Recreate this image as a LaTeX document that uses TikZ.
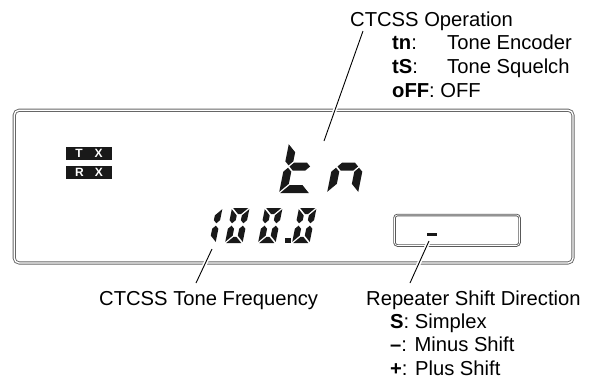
\documentclass[tikz,border=0pt]{standalone}
\usepackage{fontspec}
\setmainfont{Liberation Sans}
\newcommand\lcddigit[6]{%
  \begin{scope}[shift={(#1,#2)},x=1pt,y=1pt,xslant=0.2]
    \def\dW{#3}\def\dH{#4}\def\dT{#5}\def\dG{1.2}%
    \pgfmathsetmacro\dM{#4*0.53}\pgfmathsetmacro\dh{#5/2}%
    #6%
  \end{scope}}
\newcommand\lsA{\fill[lcd] (\dG,\dH) -- ({\dW-\dG},\dH) -- ({\dW-\dT-\dG},{\dH-\dT}) -- ({\dT+\dG},{\dH-\dT}) -- cycle;}
\newcommand\lsD{\fill[lcd] (\dG,0) -- ({\dW-\dG},0) -- ({\dW-\dT-\dG},\dT) -- ({\dT+\dG},\dT) -- cycle;}
\newcommand\lsB{\fill[lcd] (\dW,{\dH-\dG}) -- (\dW,{\dM+\dG+\dh}) -- ({\dW-\dh},{\dM+\dG}) -- ({\dW-\dT},{\dM+\dG+\dh}) -- ({\dW-\dT},{\dH-\dT-\dG}) -- cycle;}
\newcommand\lsC{\fill[lcd] (\dW,\dG) -- (\dW,{\dM-\dG-\dh}) -- ({\dW-\dh},{\dM-\dG}) -- ({\dW-\dT},{\dM-\dG-\dh}) -- ({\dW-\dT},{\dT+\dG}) -- cycle;}
\newcommand\lsE{\fill[lcd] (0,\dG) -- (0,{\dM-\dG-\dh}) -- (\dh,{\dM-\dG}) -- (\dT,{\dM-\dG-\dh}) -- (\dT,{\dT+\dG}) -- cycle;}
\newcommand\lsF{\fill[lcd] (0,{\dH-\dG}) -- (0,{\dM+\dG+\dh}) -- (\dh,{\dM+\dG}) -- (\dT,{\dM+\dG+\dh}) -- (\dT,{\dH-\dT-\dG}) -- cycle;}
\newcommand\lsG{\fill[lcd] ({\dh+\dG},\dM) -- ({\dT+\dG},{\dM+\dh}) -- ({\dW-\dT-\dG},{\dM+\dh}) -- ({\dW-\dh-\dG},\dM) -- ({\dW-\dT-\dG},{\dM-\dh}) -- ({\dT+\dG},{\dM-\dh}) -- cycle;}
\begin{document}
\begin{tikzpicture}[x=1pt,y=-1pt,
  lcd/.style={fill=black!90},
  txt/.style={anchor=base west,inner sep=0pt,font=\fontsize{20.2}{24}\selectfont},
  dbl/.style={draw=black!60,line width=0.9pt,double=white,double distance=1.3pt,rounded corners=5pt},
  dblsmall/.style={draw=black!65,line width=0.9pt,double=white,double distance=0.7pt,rounded corners=3pt},
  tag/.style={fill=black!90,text=white,inner sep=0pt,minimum width=46pt,minimum height=12.5pt,font=\fontsize{12}{12}\selectfont\bfseries},
  leader/.style={draw=black,line width=0.9pt,preaction={draw=white,line width=4pt}}]
\useasboundingbox[fill=white] (0,0) rectangle (590,381);
% display frame
\draw[dbl] (14.2,110.2) rectangle (573,263);
\draw[dblsmall] (394.5,215) rectangle (519.5,245.5);
% TX / RX tags
\node[tag] (tx) at (89,153.5) {T\hspace{12pt}X};
\node[tag] (rx) at (89,172.5) {R\hspace{11pt}X};
% "tn"
\lcddigit{279}{193}{31}{50}{8}{\lsF\lsE\lsG\lsD}
\lcddigit{327}{193}{31}{50}{8}{\lsE\lsG\lsC}
% "100.0"
\lcddigit{198}{243}{17.5}{35}{6.2}{\lsB\lsC}
\lcddigit{225}{243}{17.5}{35}{6.2}{\lsA\lsB\lsC\lsD\lsE\lsF}
\lcddigit{258}{243}{17.5}{35}{6.2}{\lsA\lsB\lsC\lsD\lsE\lsF}
\fill[lcd] (285,237.5) rectangle (290.5,243);
\lcddigit{292}{243}{17.5}{35}{6.2}{\lsA\lsB\lsC\lsD\lsE\lsF}
% minus sign
\fill[lcd] (427,233) rectangle (437,236);
% top labels
\node[txt] (op) at (350,26) {CTCSS Operation};
\node[txt] (tnk) at (392,49) {\textbf{tn}:};
\node[txt] (tnv) at (447,49) {Tone Encoder};
\node[txt] (tsk) at (392,73) {\textbf{tS}:};
\node[txt] (tsv) at (447,73) {Tone Squelch};
\node[txt] (off) at (392,97) {\textbf{oFF}: OFF};
% bottom labels
\node[txt] (freq) at (99,305) {CTCSS Tone Frequency};
\node[txt] (rsd) at (366,305) {Repeater Shift Direction};
\node[txt] (rs) at (390,328) {\textbf{S}: Simplex};
\node[txt] (rm) at (390,351) {\textbf{–}: Minus Shift};
\node[txt] (rp) at (390,375) {\textbf{+}: Plus Shift};
% leaders
\coordinate (opA) at (363,31);
\coordinate (opB) at (324,141);
\coordinate (frA) at (212,249);
\coordinate (frB) at (196,283);
\coordinate (shA) at (429,241);
\coordinate (shB) at (410,283);
\draw[leader] (opA) -- (opB);
\draw[leader] (frA) -- (frB);
\draw[leader] (shA) -- (shB);
\end{tikzpicture}
\end{document}
